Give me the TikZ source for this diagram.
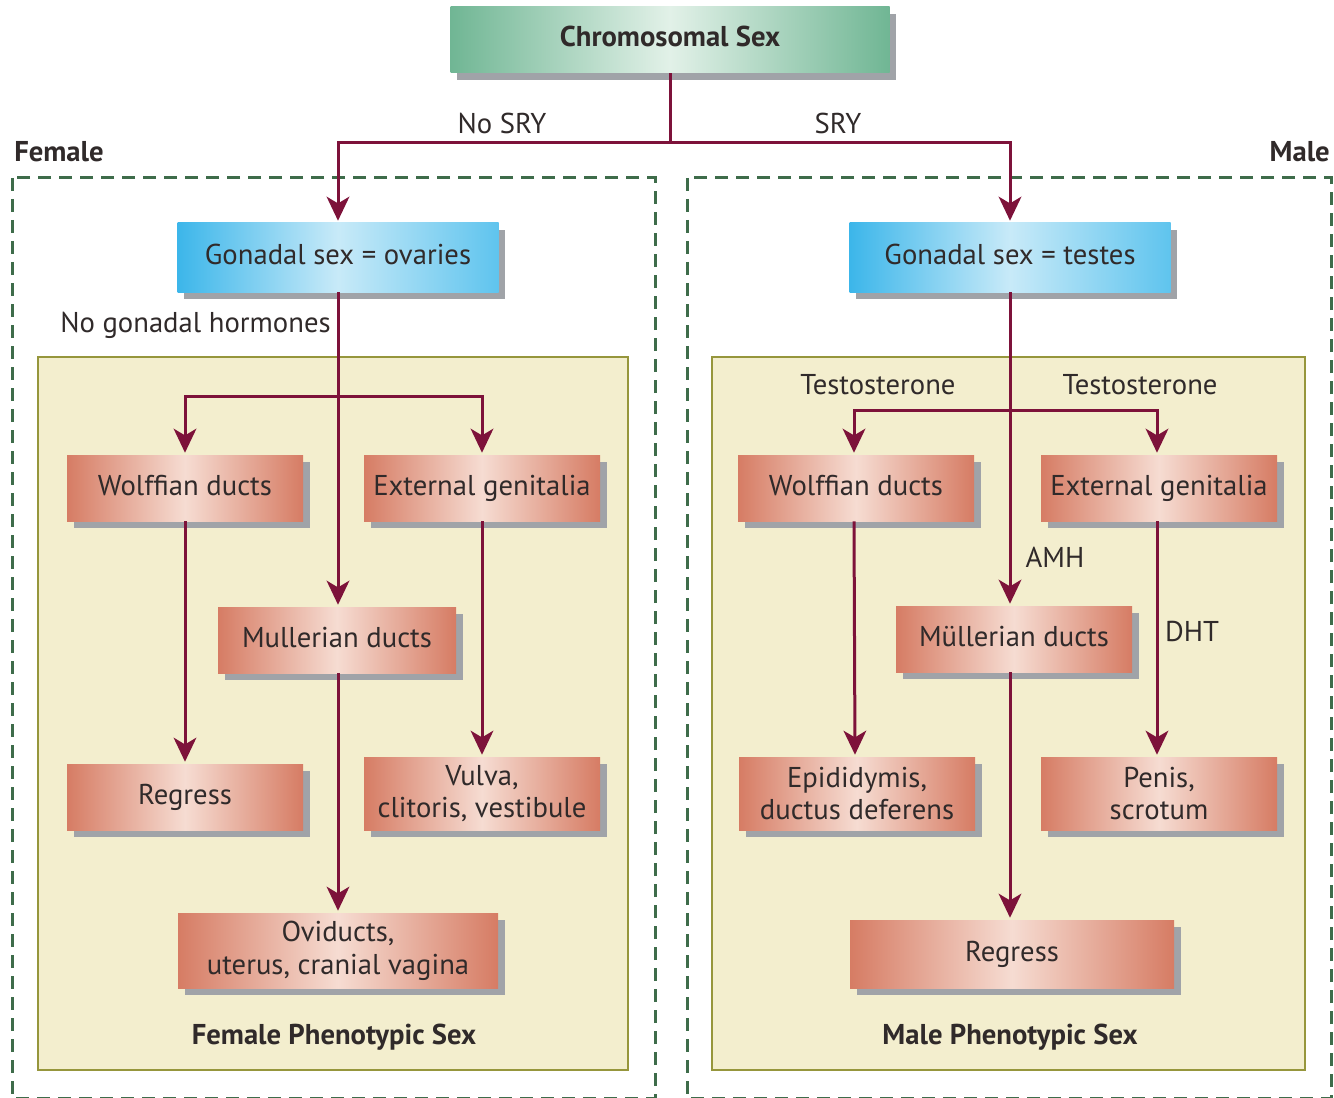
\documentclass[tikz,border=0pt]{standalone}
\usepackage{fontspec}
\setmainfont{PT Sans}
\usetikzlibrary{arrows.meta,shadows}
\definecolor{arr}{RGB}{125,18,58}
\definecolor{txt}{RGB}{48,42,42}
\definecolor{shd}{RGB}{160,163,168}
\definecolor{redE}{RGB}{214,124,100}
\definecolor{redM}{RGB}{246,220,210}
\definecolor{bluE}{RGB}{60,182,234}
\definecolor{bluM}{RGB}{200,234,248}
\definecolor{bluR}{RGB}{95,196,238}
\definecolor{grnE}{RGB}{112,182,148}
\definecolor{grnM}{RGB}{226,241,232}
\definecolor{beige}{RGB}{243,238,206}
\definecolor{olive}{RGB}{150,150,60}
\definecolor{dgreen}{RGB}{62,108,74}
\begin{document}
\begin{tikzpicture}[x=0.75pt,y=-0.75pt,
  font=\fontsize{21.5}{24.5}\selectfont,
  box/.style={rectangle, inner sep=0pt, align=center, text=txt,
    drop shadow={shadow xshift=5pt, shadow yshift=-5pt, fill=shd, opacity=1}},
  oneline/.style={text height=15pt, text depth=4.5pt},
  redbase/.style={box, left color=redE, right color=redE, middle color=redM,
    minimum width=177pt},
  rbox/.style={redbase, oneline, minimum height=49.5pt},
  tbox/.style={redbase, minimum height=54.75pt},
  bbox/.style={box, oneline, left color=bluE, right color=bluR, middle color=bluM,
    minimum width=240.75pt, minimum height=51.75pt},
  cbox/.style={box, oneline, left color=grnE, right color=grnE, middle color=grnM,
    minimum width=329.25pt, minimum height=49.5pt, font=\fontsize{21.5}{24.5}\selectfont\bfseries},
  lbl/.style={text=txt, inner sep=0pt},
  blbl/.style={lbl, font=\fontsize{21.5}{24.5}\selectfont\bfseries},
  conn/.style={draw=arr, line width=2.25pt},
  arrow/.style={conn, -{Stealth[length=18pt, width=17pt, inset=5pt]}, shorten >=1.5pt},
  dashbox/.style={draw=dgreen, line width=2.25pt, dash pattern=on 9.75pt off 6pt},
  panel/.style={fill=beige, draw=olive, line width=1.5pt}
]
\useasboundingbox (0,0) rectangle (1334,1098);
% outer dashed regions
\draw[dashbox] (12,178) rectangle (655,1098);
\draw[dashbox] (687,178) rectangle (1331,1098);
% phenotype panels
\draw[panel] (38,357) rectangle (628,1070);
\draw[panel] (712,357) rectangle (1305,1070);

% nodes
\node[cbox] (chrom) at (670,40) {Chromosomal Sex};
\node[bbox] (gonL) at (338,257.5) {Gonadal sex = ovaries};
\node[bbox] (gonR) at (1010,257.5) {Gonadal sex = testes};

\node[rbox] (wolL) at (185,488) {Wolffian ducts};
\node[rbox] (extL) at (482,488) {External genitalia};
\node[rbox, minimum width=178.5pt] (mulL) at (337,640) {Mullerian ducts};
\node[rbox] (regL) at (185,797) {Regress};
\node[tbox] (vulL) at (482,793.5) {Vulva,\\clitoris, vestibule};
\node[tbox, minimum width=240pt, minimum height=56.25pt] (ovi) at (338,950.5) {Oviducts,\\uterus, cranial vagina};

\node[rbox] (wolR) at (856,488) {Wolffian ducts};
\node[rbox] (extR) at (1159,488) {External genitalia};
\node[rbox] (mulR) at (1014,639) {Müllerian ducts};
\node[tbox] (epi) at (857,793.5) {Epididymis,\\ductus deferens};
\node[tbox] (pen) at (1159,793.5) {Penis,\\scrotum};
\node[rbox, minimum width=243pt, minimum height=51pt] (regR) at (1012,954) {Regress};

% labels
\node[blbl, anchor=west] (female) at (14,152) {Female};
\node[blbl, anchor=east] (male) at (1330,152) {Male};
\node[lbl] (nosry) at (502,123) {No SRY};
\node[lbl] (sry) at (838,123) {SRY};
\node[lbl, anchor=west] (nogh) at (60,325) {No gonadal hormones};
\node[lbl] (testL) at (878,385) {Testosterone};
\node[lbl] (testR) at (1140,385) {Testosterone};
\node[lbl] (amh) at (1055,557) {AMH};
\node[lbl] (dht) at (1192,631) {DHT};
\node[blbl] (fps) at (334,1037) {Female Phenotypic Sex};
\node[blbl] (mps) at (1010,1037) {Male Phenotypic Sex};

% connectors
\coordinate (sy) at (0,143);
\coordinate (fy) at (0,396);
\coordinate (my) at (0,410);
\draw[conn] (chrom.south) -- (chrom.south |- sy);
\draw[arrow] (chrom.south |- sy) -| (gonL.north);
\draw[arrow] (chrom.south |- sy) -| (gonR.north);

\draw[arrow] (gonL.south) -- (gonL.south |- mulL.north);
\draw[arrow] (gonL.south |- fy) -| (wolL.north);
\draw[arrow] (gonL.south |- fy) -| (extL.north);
\draw[arrow] (wolL.south) -- (regL.north);
\draw[arrow] (extL.south) -- (vulL.north);
\draw[arrow] (mulL.south -| gonL.south) -- (ovi.north -| gonL.south);

\draw[arrow] (gonR.south) -- (gonR.south |- mulR.north);
\draw[arrow] (gonR.south |- my) -| ([xshift=-1.5pt]wolR.north);
\draw[arrow] (gonR.south |- my) -| ([xshift=-1.5pt]extR.north);
\draw[arrow] ([xshift=-1.5pt]wolR.south) -- ([xshift=-1.5pt]epi.north);
\draw[arrow] ([xshift=-1.5pt]extR.south) -- ([xshift=-1.5pt]pen.north);
\draw[arrow] (mulR.south -| gonR.south) -- (regR.north -| gonR.south);
\end{tikzpicture}
\end{document}
